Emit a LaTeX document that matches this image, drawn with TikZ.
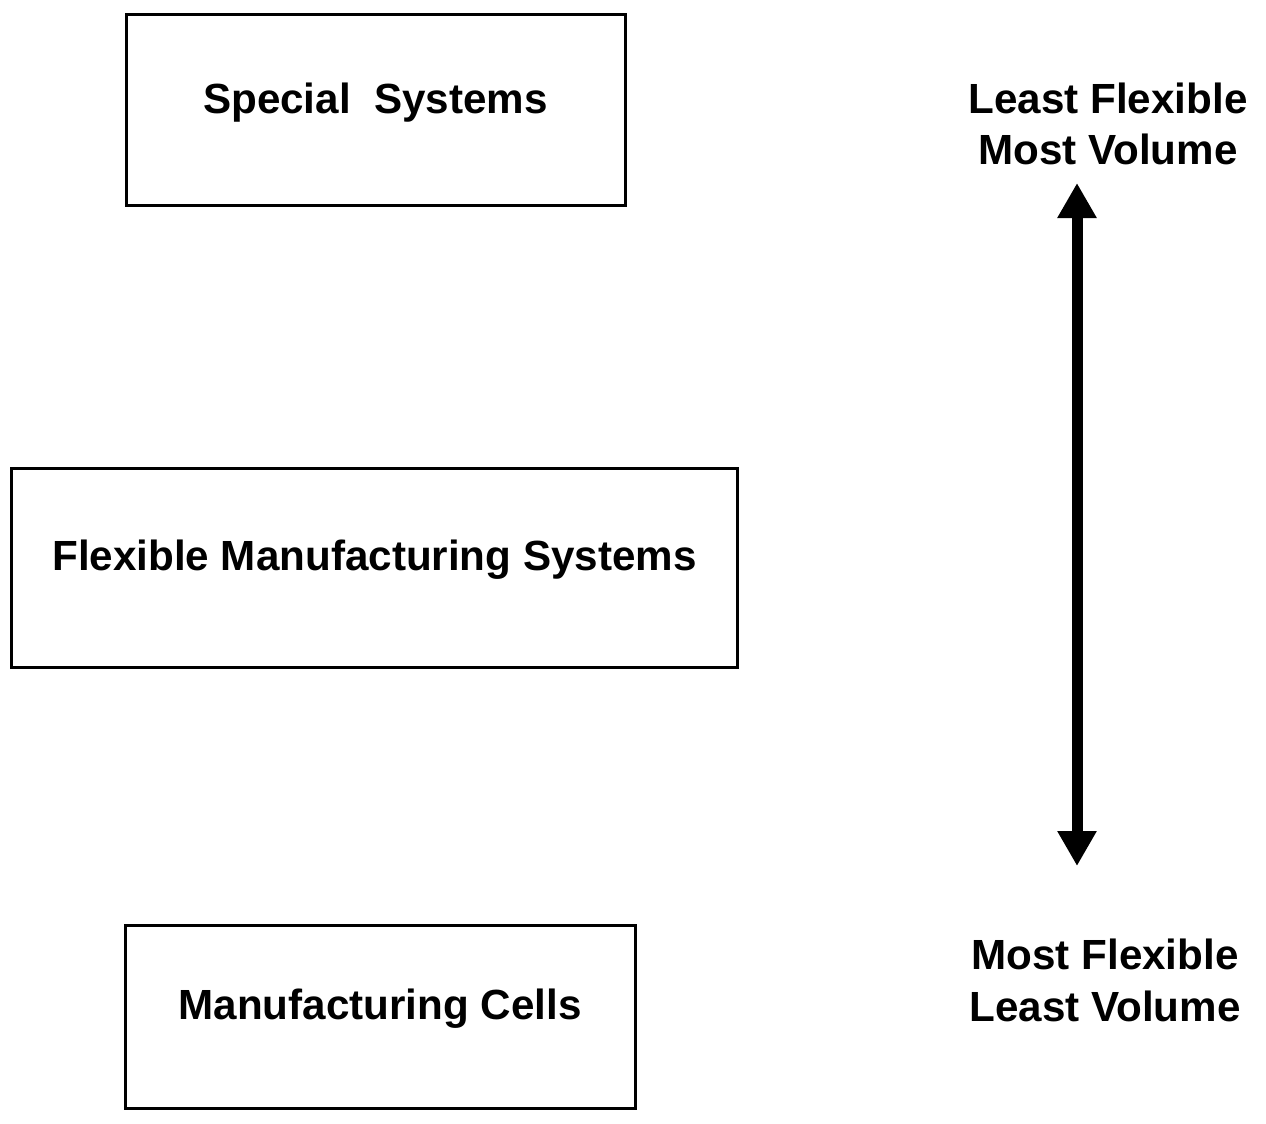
\documentclass[tikz,border=0pt]{standalone}
\usepackage{fontspec}
\setmainfont{Liberation Sans}
\usepackage{tikz}
\usetikzlibrary{shapes,arrows,arrows.meta,positioning}
\tikzstyle{system} = [rectangle, inner sep=0pt, text height=0.62cm, text depth=0.5cm, text centered, draw=black, line width=0.06cm, font=\fontsize{24}{29.5}\selectfont\bfseries]
\tikzstyle{rangetext} = [align=center, inner sep=0pt, font=\fontsize{24}{29.5}\selectfont\bfseries]
\tikzstyle{bigarrow} = [line width=0.22cm, {Triangle[width=0.74cm, length=0.7cm]}-{Triangle[width=0.74cm, length=0.7cm]}]

\begin{document}
\begin{tikzpicture}
        \useasboundingbox (0,0) rectangle (25.32,-22.46);
        % Boxes for the kinds of systems
        \node (special) [system, minimum width=9.98cm, minimum height=3.8cm] at (7.51,-2.2) {Special\ \ Systems};
        \node (fms) [system, minimum width=14.5cm, minimum height=3.98cm, node distance=9.15cm, below of=special, xshift=-0.02cm] {Flexible Manufacturing Systems};
        \node (cells) [system, minimum width=10.2cm, minimum height=3.66cm, node distance=8.98cm, below of=fms, xshift=0.11cm] {Manufacturing Cells};

        % Range labels on the right
        \node (least) [rangetext, node distance=14.65cm, right of=special, yshift=-0.28cm] {Least Flexible\\Most Volume};
        \node (most) [rangetext, node distance=14.5cm, right of=cells, yshift=0.73cm] {Most Flexible\\Least Volume};

        % Double arrow between the labels
        \coordinate (arrtop) at (21.54,-3.66);
        \coordinate (arrbot) at (21.54,-17.32);
        \draw [bigarrow] (arrtop) -- (arrbot);
    \end{tikzpicture}
\end{document}
